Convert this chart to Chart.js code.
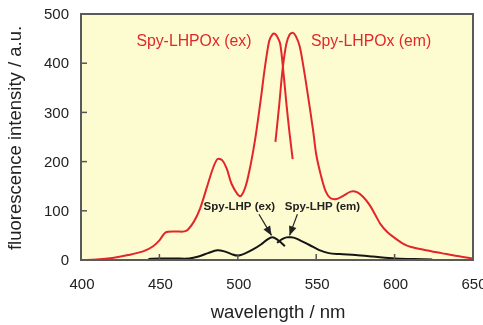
<!DOCTYPE html>
<html>
<head>
<meta charset="utf-8">
<script src="https://cdn.jsdelivr.net/npm/chart.js@4"></script>
<style>
  html, body { margin: 0; padding: 0; background: #fff; }
  #wrap { width: 483px; height: 325px; }
</style>
</head>
<body>
<div id="wrap"><canvas id="myChart" width="483" height="325"></canvas></div>
<script>
// Spy-LHPOx excitation (red)
const oxExWl  = [400, 410, 420, 430, 440, 446, 450, 454, 460, 467, 472, 476, 480, 484, 487, 490, 493, 496, 500, 502, 505, 507.5, 510, 512, 515, 517, 520, 522, 523.5, 525, 527, 529, 531, 533, 535];
const oxExVal = [0, 1, 4, 10, 18, 28, 40, 56, 58, 59, 78, 105, 145, 185, 205, 203, 185, 155, 133, 130, 150, 183, 225, 265, 335, 385, 445, 458, 460, 455, 440, 385, 318, 258, 205];
// Spy-LHPOx emission (red)
const oxEmWl  = [524, 526.5, 528.5, 531, 533, 535, 537, 539.5, 542, 544, 548, 550, 553, 556, 559, 563, 567, 572, 576, 580, 584, 588, 591, 595, 600, 605, 610, 620, 630, 640, 650];
const oxEmVal = [240, 318, 386, 440, 458, 462, 455, 434, 390, 350, 264, 215, 172, 140, 126, 124, 130, 139, 138, 128, 112, 90, 73, 58, 45, 34, 27, 20, 14, 8, 3];
// Spy-LHP excitation (black)
const lhpExWl  = [443, 450, 460, 469, 475, 481, 487, 492, 496, 500, 505, 510, 515, 519, 522, 525, 528, 530];
const lhpExVal = [2, 3, 3, 3, 7, 14, 20, 17, 12, 9, 14, 22, 32, 42, 46, 42, 34, 28];
// Spy-LHP emission (black)
const lhpEmWl  = [525, 528, 531, 534, 537, 541, 546, 552, 558, 565, 575, 586, 600, 612, 624];
const lhpEmVal = [35, 42, 46, 46, 44, 38, 30, 20, 14, 12, 10, 7, 3, 2, 1];

const xTicks = [400, 450, 500, 550, 600, 650];
const yTicks = [0, 100, 200, 300, 400, 500];

const RED = '#e3262c';
const BLACK = '#151515';
const FONT = 'Liberation Sans, Arial, sans-serif';

function pts(xs, ys) {
    return xs.map((x, i) => ({ x: x, y: ys[i] }));
}

function serie(label, xs, ys, color) {
    return {
        label: label,
        data: pts(xs, ys),
        borderColor: color,
        backgroundColor: color,
        borderWidth: 2,
        pointRadius: 0,
        showLine: true,
        tension: 0.3,
        fill: false
    };
}

// plot background, frame, inner ticks, tick labels, notes, arrows, axis titles
const decor = {
    id: 'decor',
    beforeDraw(chart) {
        const a = chart.chartArea, c = chart.ctx;
        c.save();
        c.fillStyle = '#fdfcd0';
        c.fillRect(a.left, a.top, a.right - a.left, a.bottom - a.top);
        c.restore();
    },
    afterDatasetsDraw(chart) {
        const a = chart.chartArea, c = chart.ctx;
        const xs = chart.scales.x, ys = chart.scales.y;
        c.save();
        // inner ticks
        c.strokeStyle = '#555';
        c.lineWidth = 1.5;
        yTicks.slice(1, -1).forEach(v => {
            const py = ys.getPixelForValue(v);
            c.beginPath(); c.moveTo(a.left, py); c.lineTo(a.left + 6, py); c.stroke();
        });
        xTicks.slice(1, -1).forEach(v => {
            const px = xs.getPixelForValue(v);
            c.beginPath(); c.moveTo(px, a.bottom); c.lineTo(px, a.bottom - 6); c.stroke();
        });
        // frame
        c.strokeStyle = '#5a5a5a';
        c.lineWidth = 2;
        c.strokeRect(a.left, a.top, a.right - a.left, a.bottom - a.top);

        // tick labels
        c.fillStyle = '#222';
        c.font = '15px ' + FONT;
        c.textBaseline = 'middle';
        c.textAlign = 'right';
        yTicks.forEach(v => c.fillText(String(v), a.left - 12, ys.getPixelForValue(v) + 1));
        c.textAlign = 'center';
        xTicks.forEach(v => c.fillText(String(v), xs.getPixelForValue(v) + 1, a.bottom + 25));

        // labels
        c.fillStyle = RED;
        c.font = '15.8px ' + FONT;
        c.fillText('Spy-LHPOx (ex)', xs.getPixelForValue(472), ys.getPixelForValue(443));
        c.fillText('Spy-LHPOx (em)', xs.getPixelForValue(585), ys.getPixelForValue(443));
        c.fillStyle = '#222';
        c.font = 'bold 11.5px ' + FONT;
        c.fillText('Spy-LHP (ex)', xs.getPixelForValue(501), ys.getPixelForValue(108));
        c.fillText('Spy-LHP (em)', xs.getPixelForValue(554), ys.getPixelForValue(108));

        // arrows
        const arrow = (x0, y0, x1, y1) => {
            const p0 = [xs.getPixelForValue(x0), ys.getPixelForValue(y0)];
            const p1 = [xs.getPixelForValue(x1), ys.getPixelForValue(y1)];
            const ang = Math.atan2(p1[1] - p0[1], p1[0] - p0[0]);
            c.strokeStyle = '#222';
            c.fillStyle = '#222';
            c.lineWidth = 1.2;
            c.beginPath(); c.moveTo(p0[0], p0[1]); c.lineTo(p1[0], p1[1]); c.stroke();
            c.beginPath();
            c.moveTo(p1[0], p1[1]);
            c.lineTo(p1[0] - 10 * Math.cos(ang - 0.4), p1[1] - 10 * Math.sin(ang - 0.4));
            c.lineTo(p1[0] - 10 * Math.cos(ang + 0.4), p1[1] - 10 * Math.sin(ang + 0.4));
            c.closePath(); c.fill();
        };
        arrow(513.5, 93, 521.5, 50);
        arrow(538, 93, 533, 50);

        // axis titles
        c.fillStyle = '#222';
        c.font = '18.5px ' + FONT;
        c.fillText('wavelength / nm', (a.left + a.right) / 2 + 1, 313);
        c.translate(16, (a.top + a.bottom) / 2 + 1);
        c.rotate(-Math.PI / 2);
        c.fillText('fluorescence intensity / a.u.', 0, 0);
        c.restore();
    }
};

const ctx = document.getElementById('myChart').getContext('2d');
const myChart = new Chart(ctx, {
    type: 'scatter',
    data: {
        datasets: [
            serie('Spy-LHPOx (ex)', oxExWl, oxExVal, RED),
            serie('Spy-LHPOx (em)', oxEmWl, oxEmVal, RED),
            serie('Spy-LHP (ex)', lhpExWl, lhpExVal, BLACK),
            serie('Spy-LHP (em)', lhpEmWl, lhpEmVal, BLACK)
        ]
    },
    options: {
        responsive: false,
        animation: false,
        layout: { padding: { top: 14, right: 10, left: 0, bottom: 0 } },
        plugins: { legend: { display: false }, tooltip: { enabled: false } },
        scales: {
            x: {
                type: 'linear',
                min: 400,
                max: 650,
                afterFit: s => { s.height = 65; },
                grid: { display: false, drawTicks: false },
                border: { display: false },
                ticks: { display: false }
            },
            y: {
                min: 0,
                max: 500,
                afterFit: s => { s.width = 81; },
                grid: { display: false, drawTicks: false },
                border: { display: false },
                ticks: { display: false }
            }
        }
    },
    plugins: [decor]
});
</script>
</body>
</html>
